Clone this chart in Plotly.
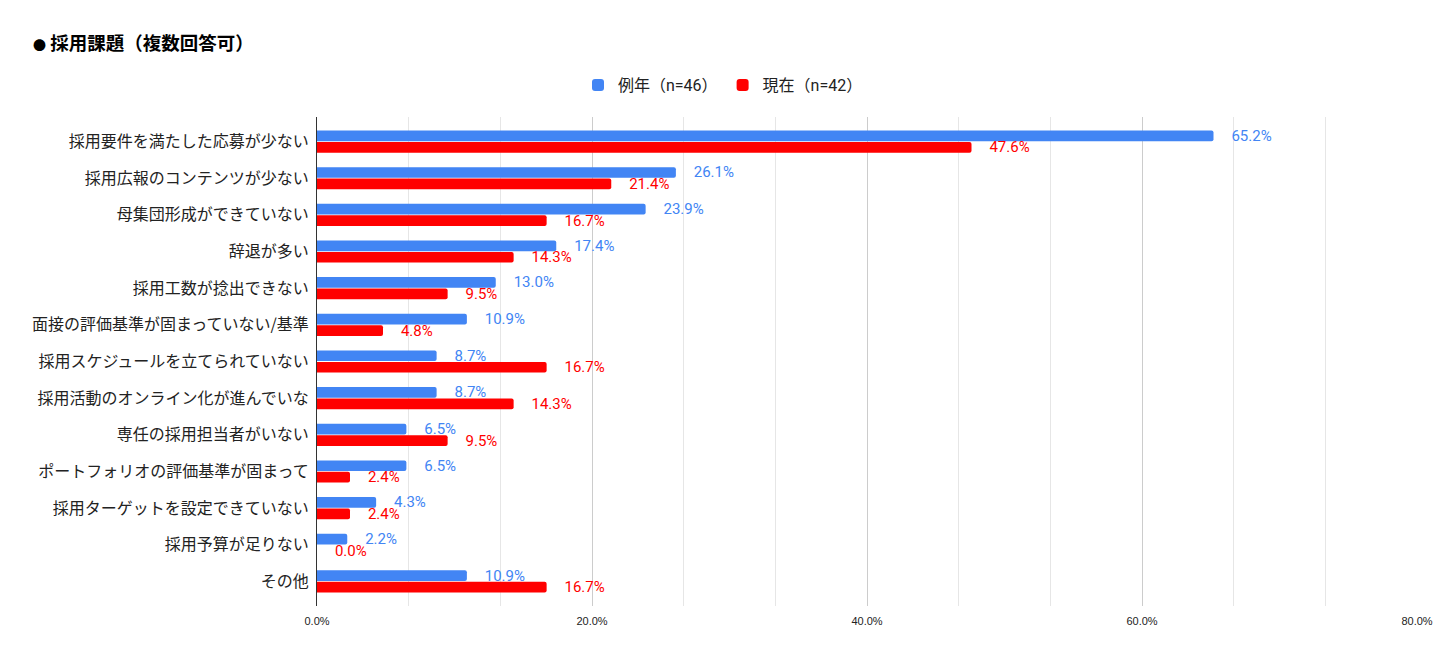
import plotly.graph_objects as go

categories = [
    "採用要件を満たした応募が少ない",
    "採用広報のコンテンツが少ない",
    "母集団形成ができていない",
    "辞退が多い",
    "採用工数が捻出できない",
    "面接の評価基準が固まっていない/基準",
    "採用スケジュールを立てられていない",
    "採用活動のオンライン化が進んでいな",
    "専任の採用担当者がいない",
    "ポートフォリオの評価基準が固まって",
    "採用ターゲットを設定できていない",
    "採用予算が足りない",
    "その他",
]
series_names = ["例年（n=46）", "現在（n=42）"]
prev_values = [65.2, 26.1, 23.9, 17.4, 13.0, 10.9, 8.7, 8.7, 6.5, 6.5, 4.3, 2.2, 10.9]
curr_values = [47.6, 21.4, 16.7, 14.3, 9.5, 4.8, 16.7, 14.3, 9.5, 2.4, 2.4, 0.0, 16.7]
x_tick_vals = [0, 20, 40, 60, 80]
x_tick_text = ["0.0%", "20.0%", "40.0%", "60.0%", "80.0%"]

colors = ["#4285F4", "#FF0000"]
pad = "\u00a0" * 4

W, H = 1450, 660
OFF = 8  # page body margin
n = len(categories)
ypad = 0.17

fig = go.Figure()
for name, vals, col in zip(series_names, [prev_values, curr_values], colors):
    fig.add_trace(go.Bar(
        y=categories, x=vals, name=name, orientation="h",
        marker=dict(color=col, cornerradius=2, line=dict(width=0)),
        text=[pad + f"{v:.1f}%" for v in vals],
        textposition="outside", cliponaxis=False, constraintext="none",
        textfont=dict(color=col, size=15, family="Roboto"),
        hoverinfo="skip",
    ))

fig.update_layout(
    width=W, height=H,
    margin=dict(l=317 - OFF, r=W - (1417 - OFF), t=117 - OFF, b=H - (606 - OFF)),
    paper_bgcolor="white", plot_bgcolor="white",
    barmode="group", bargap=0.373, bargroupgap=0.07,
    font=dict(family="Roboto, Noto Sans CJK JP", color="#222"),
    title=dict(text="<span style='font-size:13px'>●</span> <b>採用課題（複数回答可）</b>",
               xref="container", yref="container",
               x=(33 - OFF) / W, xanchor="left", y=1 - (44 - OFF) / H, yanchor="middle",
               font=dict(size=18.5, color="#000", family="Noto Sans CJK JP")),
    legend=dict(orientation="h", xref="container", x=(723 - OFF) / W, xanchor="center",
                yref="container", y=1 - (85 - OFF) / H, yanchor="middle",
                font=dict(size=16, color="#222", family="Roboto, Noto Sans CJK JP"),
                traceorder="normal", itemwidth=30),
)
fig.update_xaxes(
    range=[0, 80], tickvals=x_tick_vals, ticktext=x_tick_text,
    showgrid=True, gridcolor="#cccccc", gridwidth=1, zeroline=False,
    ticks="outside", ticklen=5, tickcolor="rgba(0,0,0,0)",
    tickfont=dict(size=11, family="Liberation Sans, Arial", color="#222"),
    minor=dict(dtick=20 / 3, showgrid=True, gridcolor="#e6e6e6", gridwidth=1),
    fixedrange=True,
)
fig.update_yaxes(
    autorange=False, range=[n - 0.5 + ypad, -0.5 - ypad],
    showline=True, linecolor="#333", linewidth=1,
    showgrid=False, ticks="", ticklabelstandoff=4,
    tickfont=dict(size=16, family="Noto Sans CJK JP", color="#222"),
)
fig.write_html("out.html")
